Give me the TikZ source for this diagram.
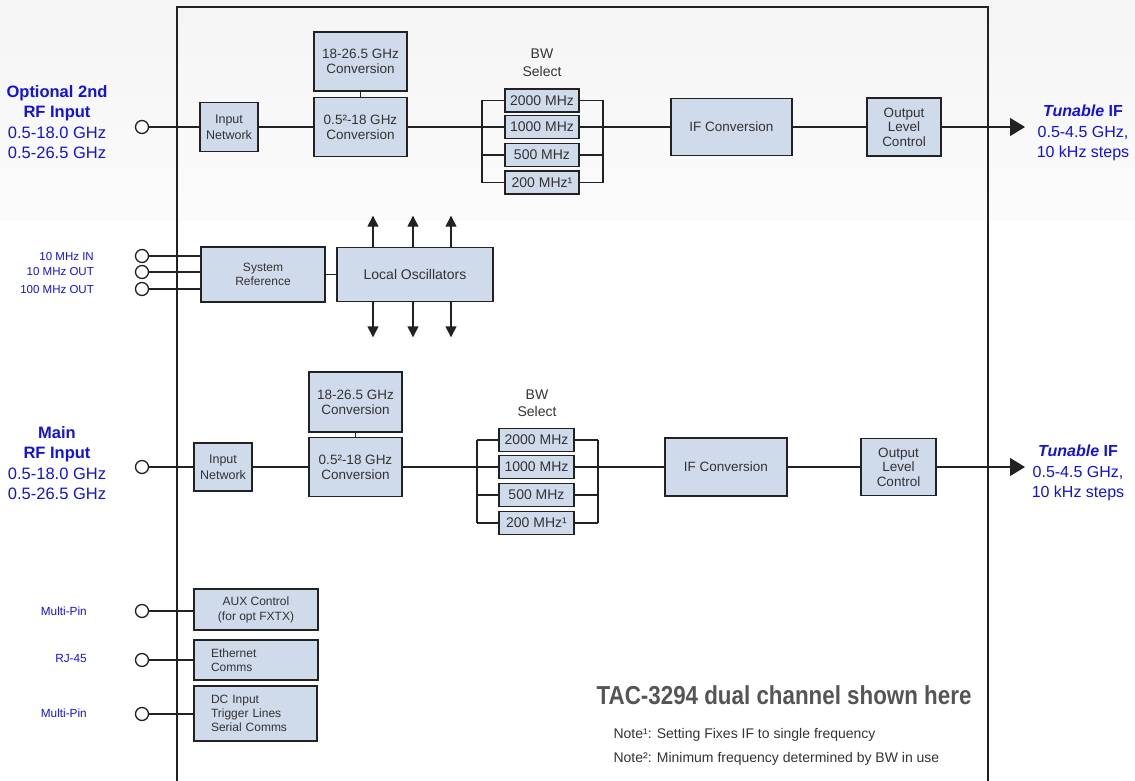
\documentclass[tikz,border=0pt]{standalone}
\usepackage{fontspec}
\setmainfont{Liberation Sans}
\usepackage{tikz}
\usetikzlibrary{arrows.meta}
\definecolor{boxbg}{RGB}{207, 218, 234}
\definecolor{boxline}{RGB}{34, 34, 34}
\definecolor{boxtext}{RGB}{51, 51, 51}
\definecolor{portblue}{RGB}{18, 18, 225}
\definecolor{titlegray}{RGB}{85, 85, 85}
\newcommand{\fsz}[2]{\fontsize{#1}{#2}\selectfont}

\begin{document}
\begin{tikzpicture}[x=1pt, y=-1pt,
    blk/.style={draw=boxline, fill=boxbg, line width=1.6pt, text=boxtext, align=center, inner sep=0pt, font=\fsz{13.5}{15}},
    bwbox/.style={blk, minimum height=23, font=\fsz{14}{16}},
    wire/.style={line width=1.4pt, draw=boxline},
    port/.style={circle, draw=boxline, fill=white, line width=1.3pt, minimum size=13, inner sep=0pt},
    rflabel/.style={text=portblue, align=center, font=\fsz{16.5}{20.5}},
    pinlabel/.style={text=portblue, anchor=east, inner sep=0pt, font=\fsz{11.5}{13}},
    outarrow/.style={wire, -{Triangle[length=15pt, width=18pt]}},
    loarrow/.style={wire, -{Triangle[length=11pt, width=11pt]}}]
    \useasboundingbox (0,0) rectangle (1135,781);
    \shade[top color=black!4, bottom color=black!1.5] (0,0) rectangle (1135,220);

    % Chassis outline
    \draw[line width=1.4pt, boxline] (177,781) -- (177,7) -- (988,7) -- (988,781);

    % Optional 2nd channel
    \node[rflabel] (rf2) at (57,122) {\textbf{Optional 2nd}\\\textbf{RF Input}\\0.5-18.0 GHz\\0.5-26.5 GHz};
    \node[port] (p2) at (142,127) {};
    \node[blk, minimum width=58, minimum height=49, font=\fsz{12.5}{16}] (in2) at (229,127) {Input\\Network};
    \node[blk, minimum width=93, minimum height=59] (lo2) at (360.5,127) {0.5²-18 GHz\\Conversion};
    \node[blk, minimum width=93, minimum height=59] (hi2) at (360.5,61.5) {18-26.5 GHz\\Conversion};
    \node[text=boxtext, align=center, font=\fsz{14}{18}] (bw2) at (542,63) {BW\\Select};
    \foreach \lbl/\yy [count=\i] in {2000 MHz/100.5, 1000 MHz/127, 500 MHz/155, 200 MHz¹/182.5}
        \node[bwbox, minimum width=74] (bwt\i) at (542,\yy) {\lbl};
    \coordinate (busl2) at (482,127);
    \coordinate (busr2) at (603,127);
    \node[blk, minimum width=121, minimum height=57] (if2) at (731.5,127) {IF Conversion};
    \node[blk, minimum width=74, minimum height=58, font=\fsz{13.5}{14.5}] (olc2) at (904,127) {Output\\Level\\Control};
    \coordinate (out2) at (1025,127);
    \node[rflabel, font=\fsz{16}{20.5}] (if2lbl) at (1083,133) {\textbf{\textit{Tunable} IF}\\0.5-4.5 GHz,\\10 kHz steps};

    \draw[wire] (p2) -- (in2) -- (lo2) -- (busl2);
    \draw[wire] (hi2) -- (lo2);
    \draw[wire] (bwt1.west -| busl2) -- (bwt4.west -| busl2);
    \draw[wire] (bwt1.east -| busr2) -- (bwt4.east -| busr2);
    \foreach \i in {1,...,4} {
        \draw[wire] (bwt\i.west -| busl2) -- (bwt\i.west);
        \draw[wire] (bwt\i.east) -- (bwt\i.east -| busr2);
    }
    \draw[wire] (busr2) -- (if2) -- (olc2);
    \draw[outarrow] (olc2) -- (out2);

    % Reference and local oscillators
    \node[pinlabel] (ref1) at (94,257) {10 MHz IN};
    \node[pinlabel] (ref2) at (94,272) {10 MHz OUT};
    \node[pinlabel] (ref3) at (94,290) {100 MHz OUT};
    \node[port] (pr1) at (142,256) {};
    \node[port] (pr2) at (142,272) {};
    \node[port] (pr3) at (142,289) {};
    \node[blk, minimum width=124, minimum height=55, font=\fsz{12}{14}] (sysref) at (263,274.5) {System\\Reference};
    \node[blk, minimum width=156, minimum height=54, font=\fsz{14}{16}] (losc) at (415,274.5) {Local Oscillators};
    \foreach \i in {1,2,3}
        \draw[wire] (pr\i) -- (pr\i -| sysref.west);
    \draw[wire] (sysref) -- (losc);
    \foreach \x in {373,413,451} {
        \draw[loarrow] (losc.north -| \x,0) -- ++(0,-31);
        \draw[loarrow] (losc.south -| \x,0) -- ++(0,35);
    }

    % Main channel
    \node[rflabel] (rf1) at (57,463) {\textbf{Main}\\\textbf{RF Input}\\0.5-18.0 GHz\\0.5-26.5 GHz};
    \node[port] (p1) at (142,467) {};
    \node[blk, minimum width=58, minimum height=48, font=\fsz{12.5}{16}] (in1) at (223,467) {Input\\Network};
    \node[blk, minimum width=93, minimum height=59] (lo1) at (355.5,467) {0.5²-18 GHz\\Conversion};
    \node[blk, minimum width=93, minimum height=60] (hi1) at (355.5,402) {18-26.5 GHz\\Conversion};
    \node[text=boxtext, align=center, font=\fsz{14}{17}] (bw1) at (537,403.5) {BW\\Select};
    \foreach \lbl/\yy [count=\i] in {2000 MHz/440, 1000 MHz/467, 500 MHz/495, 200 MHz¹/523}
        \node[bwbox, minimum width=75] (bwb\i) at (536.5,\yy) {\lbl};
    \coordinate (busl1) at (477,467);
    \coordinate (busr1) at (598,467);
    \node[blk, minimum width=122, minimum height=58] (if1) at (726,467) {IF Conversion};
    \node[blk, minimum width=75, minimum height=57, font=\fsz{13.5}{14.5}] (olc1) at (898.5,467) {Output\\Level\\Control};
    \coordinate (out1) at (1025,467);
    \node[rflabel, font=\fsz{16}{20.5}] (if1lbl) at (1078,473) {\textbf{\textit{Tunable} IF}\\0.5-4.5 GHz,\\10 kHz steps};

    \draw[wire] (p1) -- (in1) -- (lo1) -- (busl1);
    \draw[wire] (hi1) -- (lo1);
    \draw[wire] (bwb1.west -| busl1) -- (bwb4.west -| busl1);
    \draw[wire] (bwb1.east -| busr1) -- (bwb4.east -| busr1);
    \foreach \i in {1,...,4} {
        \draw[wire] (bwb\i.west -| busl1) -- (bwb\i.west);
        \draw[wire] (bwb\i.east) -- (bwb\i.east -| busr1);
    }
    \draw[wire] (busr1) -- (if1) -- (olc1);
    \draw[outarrow] (olc1) -- (out1);

    % Control and comms
    \node[pinlabel, font=\fsz{11.8}{13}] (pin1) at (87,611) {Multi-Pin};
    \node[pinlabel, font=\fsz{11.8}{13}] (pin2) at (87,658) {RJ-45};
    \node[pinlabel, font=\fsz{11.8}{13}] (pin3) at (87,713) {Multi-Pin};
    \node[port] (pc1) at (142,611) {};
    \node[port] (pc2) at (142,660) {};
    \node[port] (pc3) at (142,714) {};
    \node[blk, minimum width=124, minimum height=41, font=\fsz{12}{15}] (aux) at (256,609.5) {AUX Control\\(for opt FXTX)};
    \node[blk, minimum width=124, minimum height=40, text width=90, align=left, font=\fsz{12}{14}] (eth) at (256,660) {Ethernet\\Comms};
    \node[blk, minimum width=123, minimum height=55, text width=89, align=left, font=\fsz{12}{14}] (dcin) at (255.5,713.5) {DC Input\\Trigger Lines\\Serial Comms};
    \draw[wire] (pc1) -- (pc1 -| aux.west);
    \draw[wire] (pc2) -- (pc2 -| eth.west);
    \draw[wire] (pc3) -- (pc3 -| dcin.west);

    % Title and notes
    \node[anchor=east, text=titlegray, font=\bfseries\fsz{26}{30}] (title) at (975,695) {\scalebox{0.86}[1]{TAC-3294 dual channel shown here}};
    \node[anchor=west, text=boxtext, font=\fsz{14}{16}] (note1) at (610,735) {Note¹: Setting Fixes IF to single frequency};
    \node[anchor=west, text=boxtext, font=\fsz{14}{16}] (note2) at (610,759) {Note²: Minimum frequency determined by BW in use};
\end{tikzpicture}
\end{document}
